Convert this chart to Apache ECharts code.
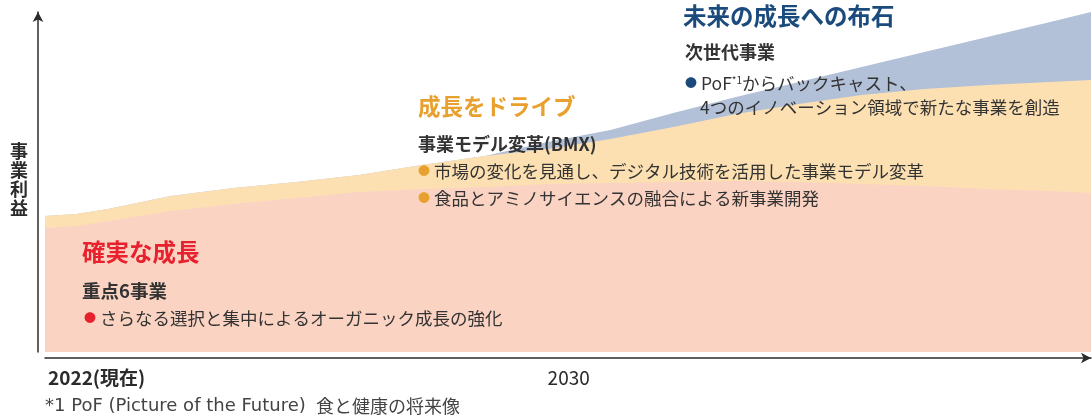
<!DOCTYPE html>
<html>
<head>
<meta charset="utf-8">
<script src="https://cdn.jsdelivr.net/npm/echarts@6/dist/echarts.min.js"></script>
<style>
html,body{margin:0;padding:0;background:#fff;}
#chart{width:1092px;height:417px;}
</style>
</head>
<body>
<div id="chart"></div>
<script>
// Year positions along the x axis
var years = [2022, 2022.5, 2023, 2024, 2025, 2026, 2027, 2028, 2029, 2030, 2031, 2032, 2033, 2034, 2035, 2036, 2037, 2038, 2038.65];
// Layer thickness (事業利益, arbitrary units), stacked bottom to top
var steadyGrowth = [124, 126, 131, 141, 148, 154, 160, 163, 165, 168, 169, 170, 171, 170, 168, 166, 163, 161, 159];   // 確実な成長
var driveGrowth  = [12, 12, 12, 15, 16, 16, 17, 24, 31, 35, 44, 55, 67, 78, 89, 97, 104, 109, 113];                  // 成長をドライブ
var futureSeeds  = [0, 0, 0, 0, 0, 0, 0, 0, 0, 7, 9, 14, 17, 22, 28, 37, 48, 60, 68];                                 // 未来の成長への布石
var xTickLabels = { 2022: '2022(現在)', 2030: '2030' };
var yAxisTitle = '事業利益';

var FONT = '"Noto Sans CJK JP", "Noto Sans", sans-serif';
var TXT = '#333333';

// cumulative tops of each stacked layer
var layers = [steadyGrowth, driveGrowth, futureSeeds];
var cum = layers.map(function (_, li) {
  return years.map(function (x, i) {
    var s = 0;
    for (var k = 0; k <= li; k++) s += layers[k][i];
    return [x, s];
  });
});

var chart = echarts.init(document.getElementById('chart'), null, { renderer: 'canvas' });

function bullet(x, y, color, text) {
  return {
    type: 'text', x: x, y: y, z: 50,
    style: {
      text: '{d|●} ' + text,
      fill: TXT, fontFamily: FONT, fontSize: 17.5,
      rich: {
        d: { fill: color, fontSize: 12, fontFamily: FONT, verticalAlign: 'middle' }
      }
    }
  };
}
function txt(x, y, s, color, size, bold, family) {
  return { type: 'text', x: x, y: y, z: 50,
    style: { text: s, fill: color, fontFamily: family || FONT, fontSize: size, fontWeight: bold ? 'bold' : 'normal' } };
}

var option = {
  animation: false,
  grid: { left: 45, right: 1, top: 12, bottom: 65 },
  xAxis: {
    type: 'value', min: 2022, max: 2038.65, interval: 1, offset: 6,
    axisLine: { show: true, onZero: false, symbol: ['none', 'arrow'], symbolSize: [8, 10], lineStyle: { color: '#2b2b2b', width: 1.5 } },
    axisTick: { show: false },
    splitLine: { show: false },
    axisLabel: {
      show: true, align: 'left', margin: 10, showMaxLabel: false,
      formatter: function (v) {
        if (v === 2022) return '{a|' + xTickLabels[2022] + '}';
        if (v === 2030) return '{c|' + xTickLabels[2030] + '}';
        return '';
      },
      rich: {
        a: { fontFamily: FONT, fontSize: 19, fontWeight: 'bold', color: '#2b2b2b', padding: [0, 0, 0, 3] },
        c: { fontFamily: FONT, fontSize: 19, color: '#2b2b2b' }
      }
    }
  },
  yAxis: {
    type: 'value', min: 0, max: 340, offset: 7,
    axisLine: { show: true, onZero: false, symbol: ['none', 'arrow'], symbolSize: [8, 10], lineStyle: { color: '#2b2b2b', width: 1.5 } },
    axisTick: { show: false },
    axisLabel: { show: false },
    splitLine: { show: false }
  },
  series: [
    { name: '未来の成長への布石', type: 'line', data: cum[2], symbol: 'none',
      lineStyle: { width: 0 }, areaStyle: { color: '#b2c0d8', opacity: 1 }, z: 1 },
    { name: '成長をドライブ', type: 'line', data: cum[1], symbol: 'none',
      lineStyle: { width: 0 }, areaStyle: { color: '#fde0b2', opacity: 1 }, z: 2 },
    { name: '確実な成長', type: 'line', data: cum[0], symbol: 'none',
      lineStyle: { width: 0 }, areaStyle: { color: '#fbd3c2', opacity: 1 }, z: 3 }
  ],
  graphic: [
    { type: 'text', x: 10, y: 142, z: 50, style: { text: yAxisTitle.split('').join('\n'), fill: '#2b2b2b', fontFamily: FONT, fontSize: 18, fontWeight: 'bold', lineHeight: 19 } },
    // 未来の成長への布石
    txt(683, 4, '未来の成長への布石', '#1b4a7c', 23.5, true),
    txt(685, 43, '次世代事業', TXT, 18, true),
    { type: 'text', x: 685, y: 75, z: 50, style: {
        text: '{d|●} PoF{s|*1}からバックキャスト、', fill: TXT, fontFamily: FONT, fontSize: 17.5,
        rich: { d: { fill: '#1b4a7c', fontSize: 12, fontFamily: FONT, verticalAlign: 'middle' },
                s: { fill: TXT, fontSize: 10, fontFamily: FONT, verticalAlign: 'top' } } } },
    txt(700, 99, '4つのイノベーション領域で新たな事業を創造', TXT, 17.5, false),
    // 成長をドライブ
    txt(418, 95, '成長をドライブ', '#e8a02e', 22.5, true),
    txt(418, 135, '事業モデル変革(BMX)', TXT, 18, true),
    bullet(418, 163, '#e8a02e', '市場の変化を見通し、デジタル技術を活用した事業モデル変革'),
    bullet(418, 190, '#e8a02e', '食品とアミノサイエンスの融合による新事業開発'),
    // 確実な成長
    txt(82, 240, '確実な成長', '#e8212e', 23.5, true),
    txt(82, 282, '重点6事業', TXT, 18.5, true),
    bullet(84, 310, '#e8212e', 'さらなる選択と集中によるオーガニック成長の強化'),
    // footnote
    txt(45, 397, '*1 PoF (Picture of the Future)', '#444444', 18, false, '"DejaVu Sans", "Noto Sans", sans-serif'),
    txt(316, 397, '食と健康の将来像', '#444444', 18, false)
  ]
};
chart.setOption(option);
</script>
</body>
</html>
